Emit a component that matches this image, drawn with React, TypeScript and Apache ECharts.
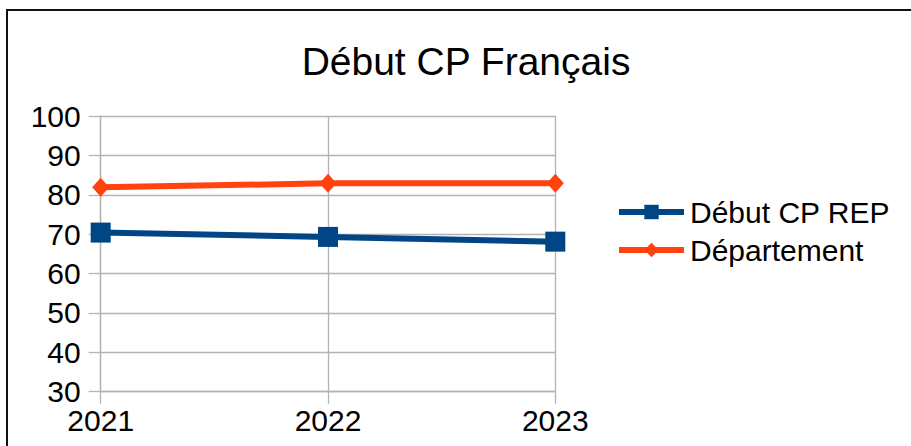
import React, { useEffect, useRef } from "react";
import * as echarts from "echarts";

const categories = ["2021", "2022", "2023"];
const repValues = [70.4, 69.3, 68.1];
const deptValues = [81.9, 82.9, 82.9];
const seriesNames = ["Début CP REP", "Département"];
const titleText = "Début CP Français";

const FONT = "'Liberation Sans', Arial, sans-serif";
const GRID = "#b3b3b3";

export default function App() {
  const ref = useRef<HTMLDivElement>(null);
  useEffect(() => {
    if (!ref.current) return;
    const chart = echarts.init(ref.current, null, { renderer: "svg" });
    chart.setOption({
      animation: false,
      backgroundColor: "#ffffff",
      textStyle: { fontFamily: FONT },
      graphic: [
        {
          type: "rect",
          shape: { x: 7, y: 10, width: 930, height: 470 },
          style: { fill: "none", stroke: "#111", lineWidth: 2 },
          silent: true,
          z: 100,
        },
        {
          type: "text",
          x: 466,
          y: 42,
          style: {
            text: titleText,
            fontSize: 39,
            fontFamily: FONT,
            fill: "#000",
            textAlign: "center",
            textVerticalAlign: "top",
          },
        },
      ],
      legend: {
        orient: "vertical",
        left: 616,
        top: 197,
        padding: 0,
        itemWidth: 65,
        itemHeight: 18,
        itemGap: 8,
        lineStyle: { width: 6 },
        textStyle: {
          fontSize: 30,
          fontFamily: FONT,
          color: "#000",
          lineHeight: 30,
          padding: [0, 0, 0, 1],
        },
        data: seriesNames,
      },
      grid: { left: 100.7, right: 355.7, top: 116, bottom: 54.3, containLabel: false },
      xAxis: {
        type: "category",
        data: categories,
        boundaryGap: false,
        axisLine: { show: true, lineStyle: { color: GRID, width: 1.3 } },
        axisTick: { show: true, length: 12, lineStyle: { color: GRID, width: 1.3 } },
        splitLine: { show: true, lineStyle: { color: GRID, width: 1.3 } },
        axisLabel: { fontSize: 30, fontFamily: FONT, color: "#000", margin: 14 },
      },
      yAxis: {
        type: "value",
        min: 30,
        max: 100,
        interval: 10,
        axisLine: { show: true, lineStyle: { color: GRID, width: 1.3 } },
        axisTick: { show: true, length: 12, lineStyle: { color: GRID, width: 1.3 } },
        splitLine: { show: true, lineStyle: { color: GRID, width: 1.3 } },
        axisLabel: { fontSize: 30, fontFamily: FONT, color: "#000", margin: 20 },
      },
      series: [
        {
          name: seriesNames[0],
          type: "line",
          data: repValues,
          symbol: "rect",
          symbolSize: 20,
          color: "#004586",
          lineStyle: { width: 6, color: "#004586" },
          itemStyle: { color: "#004586" },
        },
        {
          name: seriesNames[1],
          type: "line",
          data: deptValues,
          symbol: "diamond",
          symbolSize: [17, 19],
          color: "#ff420e",
          lineStyle: { width: 6, color: "#ff420e" },
          itemStyle: { color: "#ff420e" },
        },
      ],
    });
    return () => chart.dispose();
  }, []);
  return (
    <div
      ref={ref}
      style={{ position: "fixed", left: 0, top: 0, width: 911, height: 446 }}
    />
  );
}
